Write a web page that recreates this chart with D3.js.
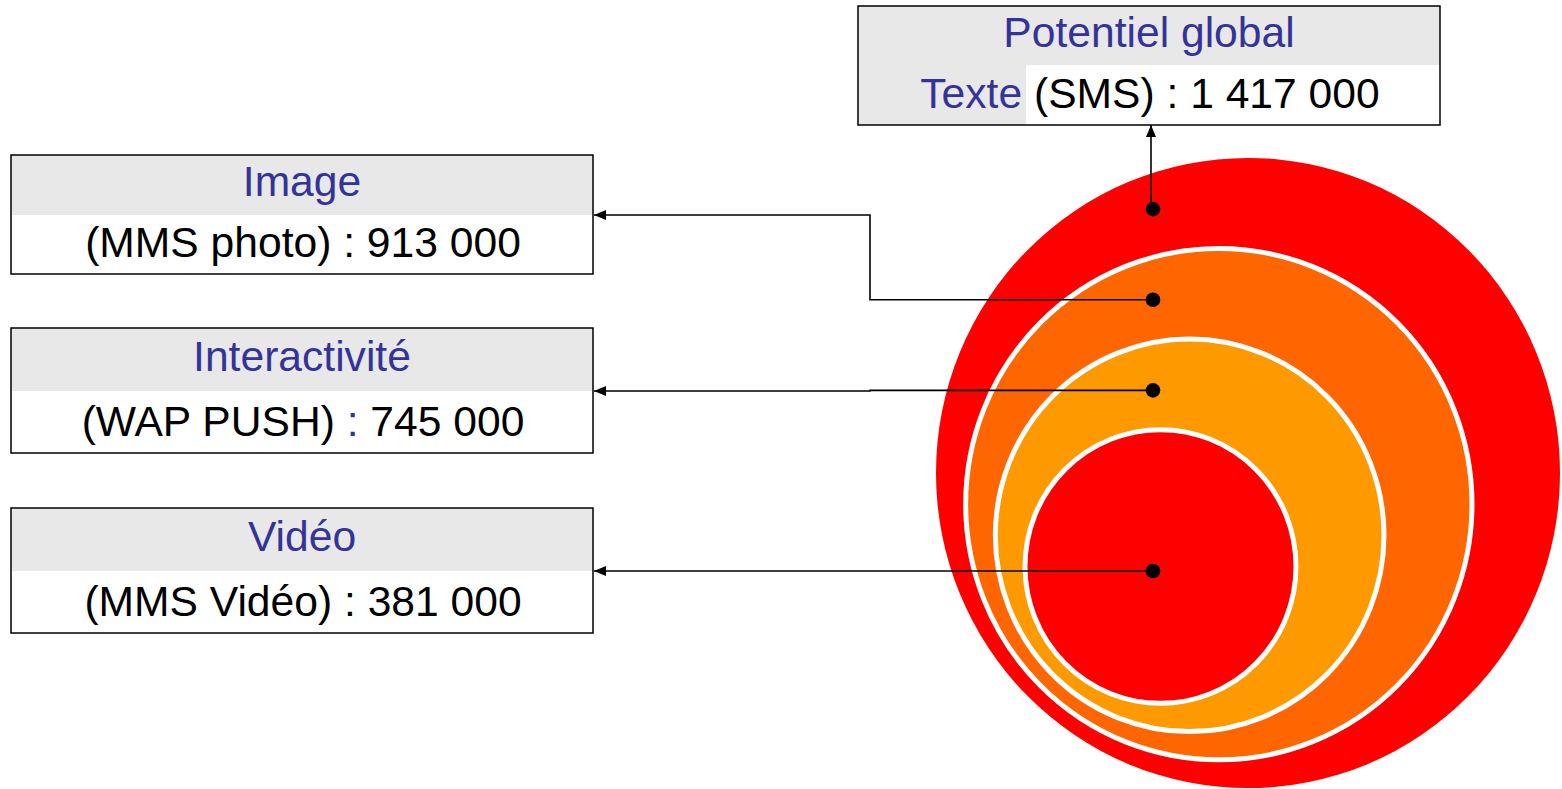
<!DOCTYPE html>
<html>
<head>
<meta charset="utf-8">
<script src="https://cdn.jsdelivr.net/npm/d3@7"></script>
<style>
  body { margin: 0; background: #fff; }
  text { font-family: "Liberation Sans", Arial, sans-serif; }
</style>
</head>
<body>
<script>
// chart data
var categories = ["Potentiel global", "Image", "Interactivité", "Vidéo"];
var prefixes = ["Texte", "", "", ""];
var channels = ["(SMS)", "(MMS photo)", "(WAP PUSH)", "(MMS Vidéo)"];
var values = [1417000, 913000, 745000, 381000];
var ringColors = ["#FF0000", "#FF6600", "#FF9900", "#FF0000"];

var blue = "#333399";
var frFormat = d3.formatLocale({decimal: ",", thousands: " ", grouping: [3], currency: ["", " €"]}).format(",d");

var svg = d3.select("body").append("svg")
    .attr("width", 1562)
    .attr("height", 789);

// nested rings, sized by rank
var rank = d3.scaleLinear().domain([0, values.length - 1]);
var rScale = rank.copy().range([312, 135.5]);
var cxScale = rank.copy().range([1248, 1160.5]);
var cyScale = rank.copy().range([473, 566.5]);
var squash = 1.01;

svg.selectAll("ellipse.ring")
    .data(values)
    .enter().append("ellipse")
    .attr("class", "ring")
    .attr("cx", function(d, i) { return cxScale(i); })
    .attr("cy", function(d, i) { return cyScale(i); })
    .attr("rx", function(d, i) { return rScale(i); })
    .attr("ry", function(d, i) { return rScale(i) * squash; })
    .style("fill", function(d, i) { return ringColors[i]; })
    .style("stroke", function(d, i) { return i === 0 ? "none" : "#fff"; })
    .style("stroke-width", 5);

function ringTop(i) { return cyScale(i) - rScale(i) * squash; }
var dotX = 1153;
function dotY(i) {
    if (i === values.length - 1) return cyScale(i) + 4.5;
    return (ringTop(i) + ringTop(i + 1)) / 2 + 6;
}

// label boxes
var boxes = [
    {x: 858, y: 6, w: 582, h: 119, head: 59},
    {x: 11, y: 155, w: 582, h: 119, head: 60},
    {x: 11, y: 328, w: 582, h: 125, head: 63},
    {x: 11, y: 508, w: 582, h: 125, head: 63}
];

svg.append("defs").append("marker")
    .attr("id", "arrow")
    .attr("viewBox", "0 0 12 10")
    .attr("refX", 12)
    .attr("refY", 5)
    .attr("markerUnits", "userSpaceOnUse")
    .attr("markerWidth", 12)
    .attr("markerHeight", 10)
    .attr("orient", "auto")
    .append("path")
    .attr("d", "M0,0 L12,5 L0,10 Z")
    .style("fill", "#000");

var elbowX = 870;
function linkPath(i) {
    var b = boxes[i];
    var y0 = dotY(i);
    if (i === 0) return "M" + (dotX - 2) + "," + y0 + " V" + (b.y + b.h);
    var yEnd = b.y + b.head;
    if (Math.abs(yEnd - y0) < 0.5) return "M" + dotX + "," + y0 + " H" + (b.x + b.w + 1);
    return "M" + dotX + "," + y0 + " H" + elbowX + " V" + yEnd + " H" + (b.x + b.w + 1);
}

svg.selectAll("path.link")
    .data(values)
    .enter().append("path")
    .attr("class", "link")
    .attr("d", function(d, i) { return linkPath(i); })
    .style("fill", "none")
    .style("stroke", "#000")
    .style("stroke-width", 1.6)
    .attr("marker-end", "url(#arrow)");

svg.selectAll("circle.dot")
    .data(values)
    .enter().append("circle")
    .attr("class", "dot")
    .attr("cx", dotX)
    .attr("cy", function(d, i) { return dotY(i); })
    .attr("r", 7.3)
    .style("fill", "#000");

var g = svg.selectAll("g.box")
    .data(values)
    .enter().append("g")
    .attr("class", "box");

g.append("rect")
    .attr("x", function(d, i) { return boxes[i].x; })
    .attr("y", function(d, i) { return boxes[i].y; })
    .attr("width", function(d, i) { return boxes[i].w; })
    .attr("height", function(d, i) { return boxes[i].h; })
    .style("fill", "#fff");

g.append("rect")
    .attr("x", function(d, i) { return boxes[i].x; })
    .attr("y", function(d, i) { return boxes[i].y; })
    .attr("width", function(d, i) { return boxes[i].w; })
    .attr("height", function(d, i) { return boxes[i].head; })
    .style("fill", "#E8E8E8");

g.append("text")
    .attr("x", function(d, i) { return boxes[i].x + boxes[i].w / 2; })
    .attr("y", function(d, i) { return boxes[i].y + boxes[i].head / 2 + 11; })
    .attr("text-anchor", "middle")
    .style("font-size", "42.6px")
    .style("fill", blue)
    .text(function(d, i) { return categories[i]; });

var lines = g.append("text")
    .attr("class", "detail")
    .attr("x", function(d, i) { return boxes[i].x + boxes[i].w / 2 + 1; })
    .attr("y", function(d, i) { return boxes[i].y + boxes[i].h - 17.5; })
    .attr("text-anchor", "middle")
    .style("font-size", "42.6px")
    .style("fill", "#000");

lines.each(function(d, i) {
    var t = d3.select(this);
    if (prefixes[i]) t.append("tspan").attr("class", "pre").style("fill", blue).text(prefixes[i] + " ");
    t.append("tspan").text(channels[i] + " ");
    t.append("tspan").style("fill", i === 2 ? blue : "#000").text(":");
    t.append("tspan").text(" " + frFormat(d));
});

// grey band behind the prefix word in the top box
lines.each(function(d, i) {
    if (!prefixes[i]) return;
    var start = this.getStartPositionOfChar(0).x;
    var end = start + this.getSubStringLength(0, prefixes[i].length);
    d3.select(this.parentNode).insert("rect", "text.detail")
        .attr("x", boxes[i].x)
        .attr("y", boxes[i].y + boxes[i].head)
        .attr("width", end + 4 - boxes[i].x)
        .attr("height", boxes[i].h - boxes[i].head)
        .style("fill", "#E8E8E8");
});

g.append("rect")
    .attr("x", function(d, i) { return boxes[i].x; })
    .attr("y", function(d, i) { return boxes[i].y; })
    .attr("width", function(d, i) { return boxes[i].w; })
    .attr("height", function(d, i) { return boxes[i].h; })
    .style("fill", "none")
    .style("stroke", "#000")
    .style("stroke-width", 1.5);
</script>
</body>
</html>
